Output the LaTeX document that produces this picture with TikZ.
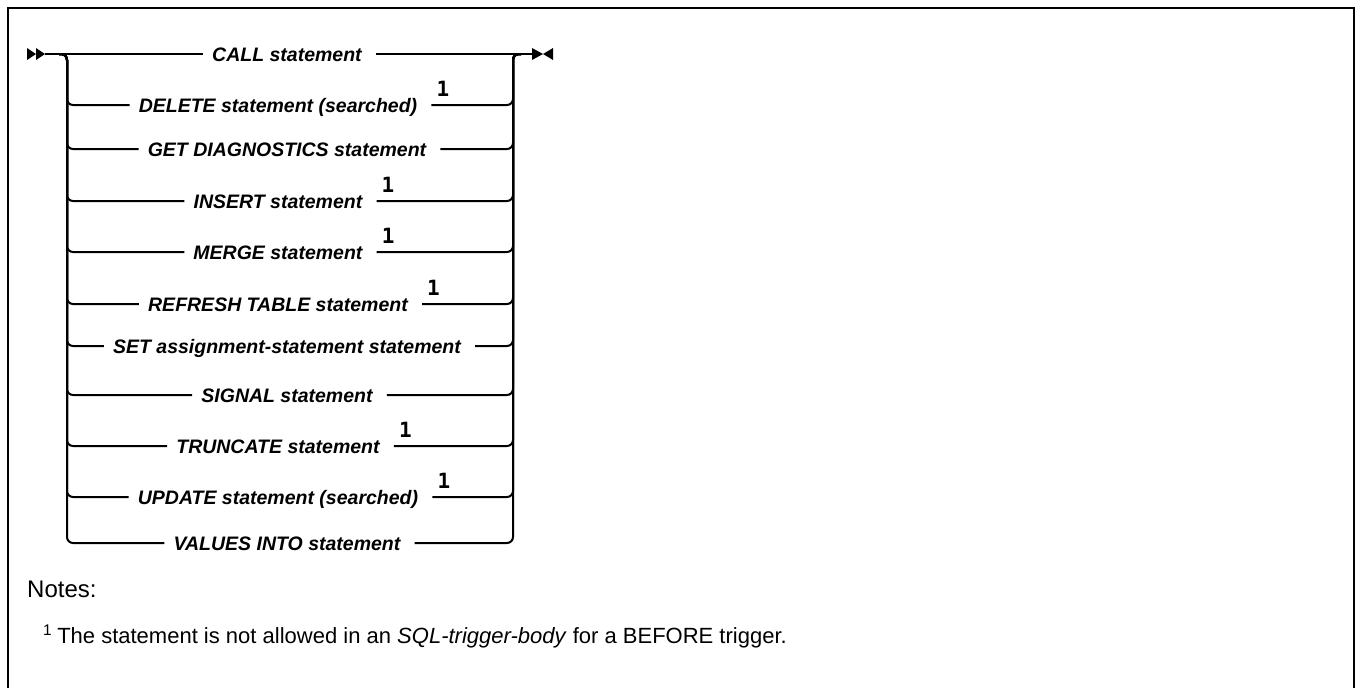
\documentclass[tikz,border=0pt]{standalone}
\usepackage{fontspec}
\setmainfont{Liberation Sans}
\newfontfamily\markfam{DejaVu Sans Mono}
\usetikzlibrary{positioning,calc}
\newcommand\stmtfont{\fontsize{19.5}{19.5}\selectfont\bfseries\itshape}
\tikzset{
  rail/.style   = {line width=2pt, rounded corners=6pt},
  frame/.style  = {line width=2pt},
  stmt/.style   = {font=\stmtfont, inner xsep=9pt, inner ysep=0pt,
                   text height=15pt, text depth=0pt},
  fnmark/.style = {font=\markfam\bfseries\fontsize{21}{21}\selectfont,
                   inner sep=0pt, anchor=base west},
  note/.style   = {inner sep=0pt, anchor=base west},
}

\begin{document}
\begin{tikzpicture}[x=1pt, y=1pt]
\useasboundingbox (0,0) rectangle (1356,-688);

%% --- frame --------------------------------------------------------------
\draw[frame] (8,-688) |- (1354,-8) -- (1354,-688);

%% --- rails ---------------------------------------------------------------
\coordinate (start) at (45,-54);
\coordinate (stop)  at (533,-54);
\coordinate (ltop)  at (67,-54);
\coordinate (rtop)  at (513,-54);

%% --- statements ---------------------------------------------------------
\node[stmt] (r1)  at (287,-54)  {CALL statement};
\node[stmt] (r2)  at (278,-105) {DELETE statement (searched)};
\node[stmt] (r3)  at (287,-149) {GET DIAGNOSTICS statement};
\node[stmt] (r4)  at (278,-201) {INSERT statement};
\node[stmt] (r5)  at (278,-252) {MERGE statement};
\node[stmt] (r6)  at (278,-304) {REFRESH TABLE statement};
\node[stmt] (r7)  at (287,-346) {SET assignment-statement statement};
\node[stmt] (r8)  at (287,-395) {SIGNAL statement};
\node[stmt] (r9)  at (278,-446) {TRUNCATE statement};
\node[stmt] (r10) at (278,-497) {UPDATE statement (searched)};
\node[stmt] (r11) at (287,-543) {VALUES INTO statement};

%% footnote marks
\foreach \r in {r2,r4,r5,r6,r9,r10}
  \node[fnmark] (n\r) at ([xshift=10pt,yshift=9pt]\r.east) {1};

%% --- main line and ends -------------------------------------------------
\fill (27,-48) -- (36,-54) -- (27,-60) -- cycle;
\fill (36,-48) -- (start) -- (36,-60) -- cycle;
\fill (532,-48) -- (543,-54) -- (532,-60) -- cycle;
\fill (553,-48) -- (543,-54) -- (553,-60) -- cycle;
\draw[rail] (start) -- (r1.west);
\draw[rail] ([xshift=5pt]r1.east) -- (stop);

%% --- branches -----------------------------------------------------------
\foreach \r in {r2,r3,r4,r5,r6,r7,r8,r9,r10,r11} {
  \draw[rail] ([xshift=-8pt]ltop) -- (ltop) -- (ltop |- \r) -- (\r.west);
  \draw[rail] ([xshift=5pt]\r.east) -- (rtop |- \r) -- (rtop) -- ([xshift=8pt]rtop);
}

%% --- notes --------------------------------------------------------------
\node[note, font=\fontsize{24}{28}\selectfont] (notes) at (27,-597) {Notes:};
\node[note, font=\fontsize{22}{28}\selectfont] (fn1)   at (43,-643)
  {\textsuperscript{1}\hspace{5pt}The statement is not allowed in an
   \textit{SQL-trigger-body} for a BEFORE trigger.};

\end{tikzpicture}
\end{document}
